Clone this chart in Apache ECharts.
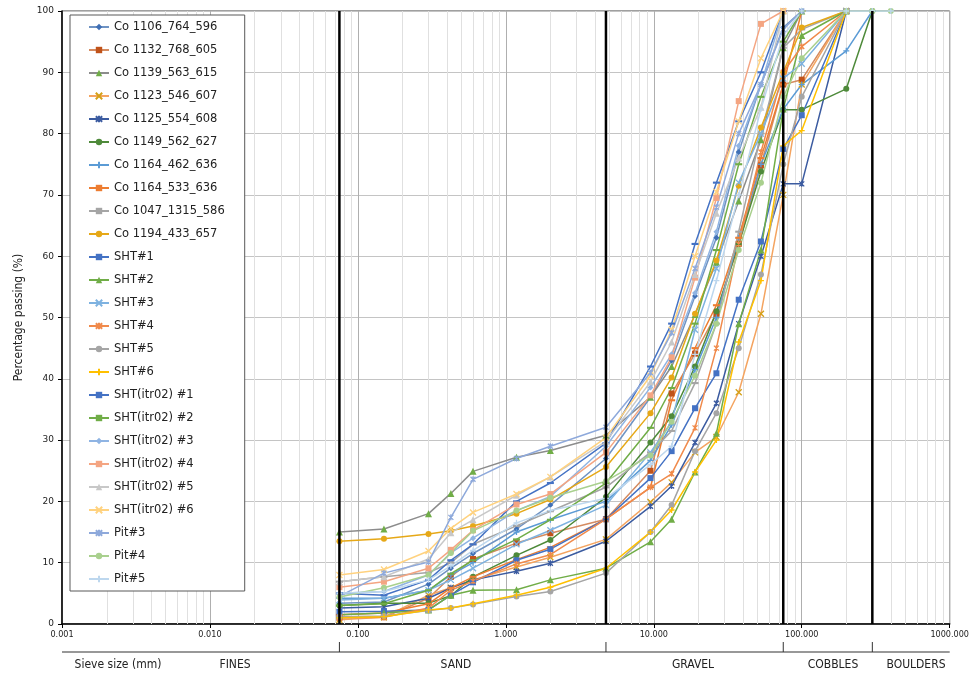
<!DOCTYPE html>
<html><head><meta charset="utf-8">
<script src="https://cdn.jsdelivr.net/npm/echarts@6/dist/echarts.min.js"></script>
<style>html,body{margin:0;padding:0;background:#fff}#c{width:972px;height:677px}</style>
</head><body><div id="c"></div>
<script>
const sieveSizes = [0.075, 0.15, 0.3, 0.425, 0.6, 1.18, 2, 4.75, 9.5, 13.2, 19, 26.5, 37.5, 53, 75, 100, 200, 300, 400];
const seriesNames = ["Co 1106_764_596","Co 1132_768_605","Co 1139_563_615","Co 1123_546_607","Co 1125_554_608","Co 1149_562_627","Co 1164_462_636","Co 1164_533_636","Co 1047_1315_586","Co 1194_433_657","SHT#1","SHT#2","SHT#3","SHT#4","SHT#5","SHT#6","SHT(itr02) #1","SHT(itr02) #2","SHT(itr02) #3","SHT(itr02) #4","SHT(itr02) #5","SHT(itr02) #6","Pit#3","Pit#4","Pit#5"];
const co1106 = [3.4, 3.6, 6.5, 9.1, 11.5, 15.5, 19.4, 27.0, 37.0, 43.0, 53.5, 63.0, 77.0, 88.0, 97.3, 100];
const co1132 = [1.0, 1.1, 4.2, 7.7, 10.6, 13.2, 14.8, 17.1, 25.0, 37.6, 44.1, 50.6, 62.0, 74.8, 88.0, 88.8, 100];
const co1139 = [15.0, 15.5, 18.0, 21.3, 24.9, 27.2, 28.3, 30.8, 37.0, 42.0, 50.5, 59.0, 69.0, 79.0, 94.0, 100];
const co1123 = [0.7, 1.1, 4.7, 5.9, 7.2, 9.3, 10.9, 13.8, 19.9, 23.1, 28.0, 30.5, 37.8, 50.6, 70.0, 88.0, 100];
const co1125 = [2.6, 2.8, 4.2, 5.9, 7.2, 8.6, 9.9, 13.5, 19.2, 22.5, 29.6, 36.0, 49.0, 60.0, 71.8, 71.8, 100];
const co1149 = [3.0, 3.4, 3.4, 4.6, 7.7, 11.2, 13.7, 20.7, 29.6, 33.9, 42.0, 51.0, 62.0, 73.8, 83.9, 83.9, 87.3, 100];
const co1164a = [4.2, 4.2, 5.5, 8.0, 10.0, 15.0, 17.0, 20.0, 26.7, 32.5, 41.5, 50.0, 63.0, 75.0, 84.0, 88.0, 93.5, 100];
const co1164b = [1.5, 1.8, 3.3, 5.9, 7.7, 10.5, 12.5, 17.1, 22.3, 36.5, 45.0, 52.0, 63.0, 76.0, 88.0, 100];
const co1047 = [6.9, 7.7, 8.4, 10.0, 13.0, 16.0, 18.4, 22.3, 28.0, 31.5, 39.3, 49.0, 64.0, 80.0, 94.0, 97.0, 100];
const co1194 = [13.5, 13.9, 14.7, 15.2, 16.0, 18.0, 20.3, 25.6, 34.4, 40.2, 50.6, 59.3, 71.5, 81.0, 90.0, 97.3, 100];
const sht1 = [2.0, 2.1, 2.3, 4.7, 6.8, 10.4, 12.2, 17.1, 23.8, 28.2, 35.2, 40.9, 52.9, 62.4, 77.5, 83.0, 100];
const sht2 = [1.5, 1.8, 2.3, 4.7, 5.5, 5.6, 7.2, 9.1, 13.4, 17.1, 24.8, 31.1, 49.0, 61.0, 84.0, 96.0, 100];
const sht3 = [3.9, 4.2, 5.5, 7.2, 9.1, 13.0, 15.3, 19.4, 28.0, 33.0, 48.0, 58.0, 72.0, 80.0, 89.0, 91.4, 100];
const sht4 = [1.0, 1.1, 2.6, 5.5, 7.0, 9.8, 11.3, 17.1, 22.3, 24.5, 32.0, 45.0, 62.0, 77.0, 90.0, 94.2, 100];
const sht5 = [1.2, 1.3, 2.2, 2.6, 3.2, 4.5, 5.3, 8.3, 15.0, 19.4, 28.2, 34.4, 45.0, 57.0, 75.0, 86.0, 100];
const sht6 = [1.0, 1.2, 2.3, 2.6, 3.3, 4.7, 6.0, 9.1, 15.0, 18.6, 24.8, 30.0, 46.0, 56.0, 78.0, 80.5, 100];
const shtItr1 = [5.0, 4.7, 7.2, 10.4, 13.0, 20.0, 23.0, 29.5, 42.0, 49.0, 62.0, 72.0, 82.0, 90.0, 100];
const shtItr2 = [3.0, 3.3, 5.5, 8.2, 10.4, 13.8, 17.0, 23.0, 32.0, 38.5, 49.0, 61.0, 75.0, 86.0, 95.0, 100];
const shtItr3 = [5.0, 5.3, 8.0, 11.6, 14.0, 18.5, 20.8, 29.0, 38.6, 44.0, 54.0, 64.0, 78.0, 88.0, 100];
const shtItr4 = [6.0, 6.9, 9.1, 12.1, 15.3, 19.5, 21.2, 28.0, 37.3, 43.5, 56.5, 69.5, 85.3, 97.9, 100];
const shtItr5 = [6.9, 7.7, 10.6, 14.9, 17.0, 21.0, 24.0, 29.8, 39.5, 46.0, 57.0, 67.0, 76.0, 84.3, 100];
const shtItr6 = [8.0, 8.9, 11.9, 15.6, 18.2, 21.2, 24.0, 30.4, 40.5, 48.0, 60.0, 70.5, 82.0, 92.3, 100];
const pit3 = [4.5, 8.3, 10.1, 17.4, 23.6, 27.0, 29.0, 32.1, 41.0, 47.5, 58.0, 68.0, 80.0, 88.0, 97.0, 100];
const pit4 = [4.4, 5.9, 8.0, 11.6, 15.2, 18.5, 20.6, 23.3, 27.5, 33.0, 40.5, 49.0, 61.0, 72.0, 86.0, 92.3, 100, 100, 100];
const pit5 = [5.0, 5.3, 7.2, 9.5, 12.0, 16.5, 18.5, 20.5, 26.0, 29.0, 44.0, 56.0, 70.0, 84.0, 96.0, 100, 100, 100, 100];
const seriesValues = [co1106, co1132, co1139, co1123, co1125, co1149, co1164a, co1164b, co1047, co1194, sht1, sht2, sht3, sht4, sht5, sht6, shtItr1, shtItr2, shtItr3, shtItr4, shtItr5, shtItr6, pit3, pit4, pit5];
const boundaries = [0.075, 4.75, 75, 300];
const decades = [0.001, 0.01, 0.1, 1, 10, 100];
const bandLabels = ["Sieve size (mm)", "FINES", "SAND", "GRAVEL", "COBBLES", "BOULDERS"];

const X = 'path://M0,0L10,10M10,0L0,10';
const STAR = 'path://M0,0L10,10M10,0L0,10M5,-1L5,11';
const PLUS = 'path://M5,0L5,10M0,5L10,5';
const DASH = 'path://M0,0L10,0L10,3L0,3Z';
const styles = [
  ['#6F93C3', '#3F6FB5', 'diamond'],
  ['#D58B60', '#C0531A', 'rect'],
  ['#8C8C8C', '#70AD47', 'triangle'],
  ['#F4A460', '#D4A017', X],
  ['#3B5BA0', '#3B5BA0', STAR],
  ['#4E8A3A', '#4E8A3A', 'circle'],
  ['#5B9BD5', '#5B9BD5', PLUS],
  ['#ED7D31', '#ED7D31', DASH],
  ['#A5A5A5', '#A5A5A5', DASH],
  ['#E6A817', '#E6A817', 'circle'],
  ['#4472C4', '#4472C4', 'rect'],
  ['#70AD47', '#70AD47', 'triangle'],
  ['#7EB2E0', '#7EB2E0', X],
  ['#F08A4B', '#F08A4B', STAR],
  ['#A5A5A5', '#A5A5A5', 'circle'],
  ['#FFC000', '#FFC000', PLUS],
  ['#4472C4', '#4472C4', DASH],
  ['#70AD47', '#70AD47', DASH],
  ['#8FB4E3', '#8FB4E3', 'diamond'],
  ['#F4A582', '#F4A582', 'rect'],
  ['#C8C8C8', '#C8C8C8', 'triangle'],
  ['#FFD27F', '#FFD27F', X],
  ['#8EA9DB', '#8EA9DB', STAR],
  ['#A9D08E', '#A9D08E', 'circle'],
  ['#BDD7EE', '#BDD7EE', PLUS]
];

const chart = echarts.init(document.getElementById('c'), null, {renderer: 'canvas'});
const lineSeries = seriesNames.map((name, si) => {
  const vals = seriesValues[si];
  const data = [];
  vals.forEach((v, i) => { if (v != null) data.push([sieveSizes[i], v]); });
  const [lc, mc, sym] = styles[si];
  const isDash = sym === DASH;
  const isStroke = sym.startsWith('path://') && !isDash;
  return {
    type: 'line', name, data,
    symbol: sym, symbolKeepAspect: true,
    symbolSize: isDash ? 7 : (sym === 'triangle' ? 7 : 6),
    showSymbol: true,
    lineStyle: {color: lc, width: 1.5},
    itemStyle: {color: mc, borderColor: mc, borderWidth: isStroke ? 1.3 : 0},
    emphasis: {disabled: true},
    z: 3
  };
});

chart.setOption({
  animation: false,
  backgroundColor: '#fff',
  grid: {left: 62, right: 21, top: 11, bottom: 53, show: true, borderColor: '#404040', borderWidth: 1, backgroundColor: 'transparent'},
  legend: {
    data: seriesNames, orient: 'vertical', left: 70, top: 15,
    padding: [5, 20, 5, 18], itemGap: 9, itemWidth: 20, itemHeight: 8, symbolKeepAspect: true,
    backgroundColor: '#fff', borderColor: '#595959', borderWidth: 1,
    textStyle: {fontFamily: 'DejaVu Sans', fontSize: 11.5, color: '#222', lineHeight: 14},
    selectedMode: false, z: 10
  },
  xAxis: {
    type: 'log', logBase: 10, min: 0.001, max: 1000, splitNumber: 6,
    axisLine: {show: true, onZero: false, lineStyle: {color: '#000', width: 1.5}},
    axisTick: {show: true, length: 4, lineStyle: {color: '#000'}},
    axisLabel: {fontFamily: 'DejaVu Sans Condensed, DejaVu Sans', fontSize: 9, color: '#222', margin: 6, formatter: v => (+v).toFixed(3), showMaxLabel: true, showMinLabel: true},
    splitLine: {show: true, lineStyle: {color: '#AFAFAF', width: 1}}
  },
  yAxis: {
    type: 'value', min: 0, max: 100, interval: 10,
    name: 'Percentage passing (%)', nameLocation: 'middle', nameGap: 37,
    nameTextStyle: {fontFamily: 'DejaVu Sans Condensed, DejaVu Sans', fontSize: 12, color: '#222'},
    axisLine: {show: true, lineStyle: {color: '#000', width: 1.5}},
    axisTick: {show: true, length: 4, lineStyle: {color: '#000'}},
    axisLabel: {fontFamily: 'DejaVu Sans', fontSize: 9, color: '#222', margin: 8},
    splitLine: {show: true, lineStyle: {color: '#C4C4C4', width: 1}}
  },
  series: lineSeries
});

// minor grid, class boundaries and bottom soil-class band, all placed through the axis scales
const px = v => chart.convertToPixel({xAxisIndex: 0}, v);
const py = v => chart.convertToPixel({yAxisIndex: 0}, v);
const yTop = py(100), yBot = py(0);
const g = [];
decades.forEach(d => {
  for (let k = 2; k <= 9; k++) {
    const x = Math.round(px(d * k)) + 0.5;
    g.push({type: 'line', z: 1, silent: true, shape: {x1: x, y1: yTop, x2: x, y2: yBot}, style: {stroke: '#E0E0E0', lineWidth: 1}});
  }
});
boundaries.forEach(b => {
  const x = px(b);
  g.push({type: 'line', z: 5, silent: true, shape: {x1: x, y1: yTop, x2: x, y2: yBot}, style: {stroke: '#000', lineWidth: 2.5}});
});
const bandY = 652;
const x0 = px(0.001), x1 = px(1000);
g.push({type: 'line', z: 5, shape: {x1: x0, y1: bandY, x2: x1, y2: bandY}, style: {stroke: '#333', lineWidth: 1.2}});
boundaries.forEach(b => {
  const x = px(b);
  g.push({type: 'line', z: 5, shape: {x1: x, y1: 642, x2: x, y2: bandY}, style: {stroke: '#333', lineWidth: 1}});
});
const labelCenters = [118, 235, 456, 693, 833, 916];
bandLabels.forEach((t, i) => {
  g.push({type: 'text', z: 5, x: labelCenters[i], y: 665, style: {text: t, fill: '#222', font: '12px "DejaVu Sans Condensed", "DejaVu Sans"', textAlign: 'center', textVerticalAlign: 'middle'}});
});
chart.setOption({graphic: g});
</script></body></html>
